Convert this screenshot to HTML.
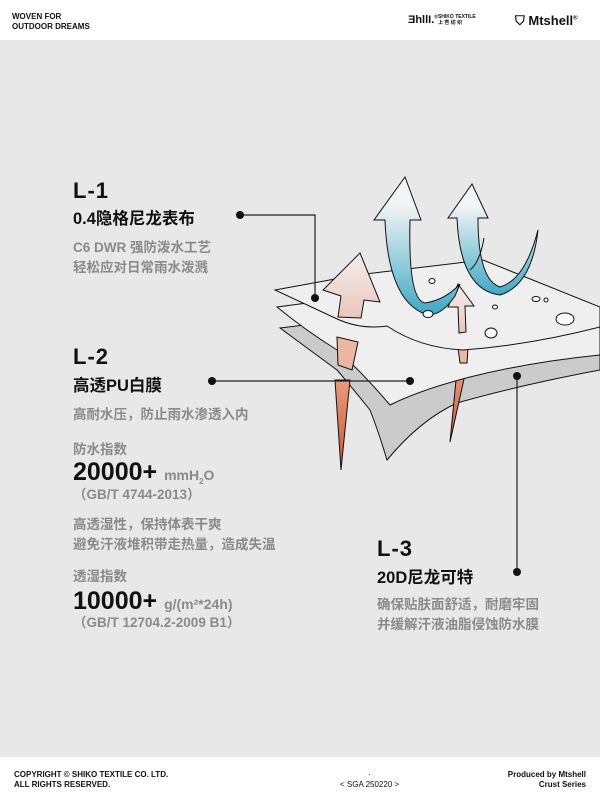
<!DOCTYPE html>
<html><head><meta charset="utf-8"><style>
*{margin:0;padding:0;box-sizing:border-box}
body{width:600px;height:799px;background:#fff;position:relative;overflow:hidden;font-family:"Liberation Sans","Noto Sans CJK SC",sans-serif}
.bg{position:absolute;left:0;top:40px;width:600px;height:717px;background:#e8e8e8}
.t{position:absolute;white-space:nowrap;color:#111}
.h{font-size:22px;font-weight:bold;letter-spacing:1px}
.s{font-size:16.5px;font-weight:bold}
.g{font-size:13.5px;font-weight:bold;color:#8a8a8a;line-height:20px}
.big{font-size:25px;font-weight:bold}
.u{font-size:14px;font-weight:bold;color:#8a8a8a}
.sm{font-size:8px;font-weight:bold;line-height:10px}
svg{position:absolute;left:0;top:0}
</style></head><body>
<div class="bg"></div>
<div class="t sm" style="left:12px;top:12px">WOVEN FOR<br>OUTDOOR DREAMS</div>
<div class="t" style="left:408px;top:14px;font-size:11px;font-weight:bold">ƎhllΙ.<sup style="font-size:5px">®</sup><span style="font-size:5px;display:inline-block;line-height:6px;vertical-align:middle">SHIKO TEXTILE<br>上 杏 纺 织</span></div>
<div class="t" style="left:515px;top:13px;font-size:13px;font-weight:900">⛉ Mtshell<sup style="font-size:6px">®</sup></div>

<svg width="600" height="799" viewBox="0 0 600 799">
<defs>
<linearGradient id="bl" x1="0" y1="0" x2="0" y2="1"><stop offset="0.2" stop-color="#f2f4f5"/><stop offset="1" stop-color="#3ea9c4"/></linearGradient>
<linearGradient id="pk" x1="0" y1="0" x2="0" y2="1"><stop offset="0" stop-color="#f4eeec"/><stop offset="1" stop-color="#e9c7bb"/></linearGradient>
<linearGradient id="rd" x1="0" y1="0" x2="0" y2="1"><stop offset="0" stop-color="#e89a7c"/><stop offset="1" stop-color="#c65a35"/></linearGradient>
</defs>
<!-- gray layer -->
<path d="M280,328 L330,322 L600,335 L600,370 Q520,385 457,403 Q420,420 387,460 Q378,430 370,410 Q350,385 337,370 Q310,350 280,328 Z" fill="#cbcbcb" stroke="#111" stroke-width="1"/>
<!-- red spikes lower parts -->
<path d="M335,380 L350,380 L341,470 Z" fill="url(#rd)" stroke="#111" stroke-width="1"/>
<path d="M457,370 L466,370 L450,442 Z" fill="url(#rd)" stroke="#111" stroke-width="1"/>
<!-- middle white -->
<path d="M277,307 L330,300 L600,318 L600,355 Q530,362 470,377 Q420,390 390,405 Q360,370 337,350 Q305,330 277,307 Z" fill="#efefef" stroke="#111" stroke-width="1"/>
<!-- spike upper parts -->
<path d="M337,337 L358,342 L352,370 L338,365 Z" fill="#eab7a3" stroke="#111" stroke-width="1"/>
<path d="M458,348 L468,348 L467,363 L460,363 Z" fill="#eab7a3" stroke="#111" stroke-width="1"/>
<!-- top white -->
<path d="M275,290 L357,275 L483,260 L600,307 L600,327 Q530,345 463,350 Q420,348 387,326 Q360,330 335,318 Z" fill="#efefef" stroke="#111" stroke-width="1"/>
<!-- droplets -->
<g fill="#fafafa" stroke="#111" stroke-width="1">
<ellipse cx="432" cy="281" rx="3" ry="2.5"/><ellipse cx="536" cy="299" rx="4" ry="2.5"/><ellipse cx="546" cy="300" rx="2" ry="2"/>
<ellipse cx="495" cy="307" rx="2.5" ry="2"/><ellipse cx="565" cy="319" rx="9" ry="6"/><ellipse cx="491" cy="333" rx="6" ry="5"/>
</g>
<!-- pink arrows -->
<path d="M360,253 L380,302 L364,300 L361,318 L338,317 L341,296 L323,290 Z" fill="url(#pk)" stroke="#111" stroke-width="1"/>
<path d="M458,284 L474,306 L465,306 L466,332 L459,333 L458,307 L448,307 Z" fill="url(#pk)" stroke="#111" stroke-width="1"/>
<!-- blue arrows -->
<path d="M405,177 L421,220 L410,220 Q408,300 425,303 Q445,300 460,284 L455,296 Q440,318 425,314 Q388,300 385,220 L374,220 Z" fill="url(#bl)" stroke="#111" stroke-width="1"/>
<ellipse cx="428" cy="314" rx="5" ry="3.5" fill="#fafafa" stroke="#111"/>
<path d="M472,184 L488,218 L478,218 Q478,280 500,287 Q525,280 538,230 Q532,285 500,295 Q460,290 457,218 L448,218 Z" fill="url(#bl)" stroke="#111" stroke-width="1"/>
<path d="M484,238 Q480,262 470,270" fill="none" stroke="#111" stroke-width="1"/>
<!-- connectors -->
<g stroke="#222" stroke-width="1.2" fill="none">
<polyline points="240,215 315,215 315,298"/>
<line x1="212" y1="381" x2="410" y2="381"/>
<line x1="517" y1="376" x2="517" y2="572"/>
</g>
<g fill="#111"><circle cx="240" cy="215" r="4"/><circle cx="315" cy="298" r="4"/><circle cx="212" cy="381" r="4"/><circle cx="410" cy="381" r="4"/><circle cx="517" cy="376" r="4"/><circle cx="517" cy="572" r="4"/></g>
</svg>

<div class="t h" style="left:73px;top:178px">L-1</div>
<div class="t s" style="left:73px;top:205px">0.4隐格尼龙表布</div>
<div class="t g" style="left:73px;top:238px">C6 DWR 强防泼水工艺<br>轻松应对日常雨水泼溅</div>
<div class="t h" style="left:73px;top:344px">L-2</div>
<div class="t s" style="left:73px;top:372px">高透PU白膜</div>
<div class="t g" style="left:73px;top:405px">高耐水压，防止雨水渗透入内</div>
<div class="t g" style="left:73px;top:440px">防水指数</div>
<div class="t big" style="left:73px;top:458px">20000+ <span class="u" style="color:#8a8a8a">mmH<sub style="font-size:8px">2</sub>O</span></div>
<div class="t g" style="left:73px;top:485px">（GB/T 4744-2013）</div>
<div class="t g" style="left:73px;top:515px">高透湿性，保持体表干爽<br>避免汗液堆积带走热量，造成失温</div>
<div class="t g" style="left:73px;top:567px">透湿指数</div>
<div class="t big" style="left:73px;top:587px">10000+ <span class="u">g/(m²*24h)</span></div>
<div class="t g" style="left:73px;top:613px">（GB/T 12704.2-2009 B1）</div>
<div class="t h" style="left:377px;top:536px">L-3</div>
<div class="t s" style="left:377px;top:564px">20D尼龙可特</div>
<div class="t g" style="left:377px;top:595px">确保贴肤面舒适，耐磨牢固<br>并缓解汗液油脂侵蚀防水膜</div>

<div class="t sm" style="left:14px;top:770px">COPYRIGHT © SHIKO TEXTILE CO. LTD.<br>ALL RIGHTS RESERVED.</div>
<div class="t sm" style="left:340px;top:770px;text-align:center;font-weight:normal">·<br>&lt; SGA 250220 &gt;</div>
<div class="t sm" style="right:14px;top:770px;text-align:right">Produced by Mtshell<br>Crust Series</div>
</body></html>
